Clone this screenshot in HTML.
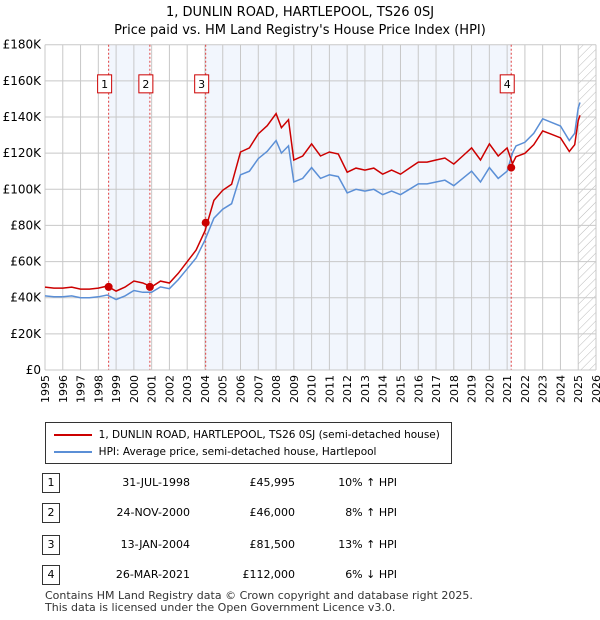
<!DOCTYPE html>
<html><head><meta charset="utf-8"><style>
body{margin:0;background:#fff;font-family:"DejaVu Sans","Liberation Sans",sans-serif;color:#000}
</style></head><body>
<div style="position:relative;width:600px;height:620px;overflow:hidden">
<div style="position:absolute;top:4px;width:600px;text-align:center;font-size:13px;line-height:18px">1, DUNLIN ROAD, HARTLEPOOL, TS26 0SJ<br>Price paid vs. HM Land Registry's House Price Index (HPI)</div>
<svg id="c" width="600" height="420" style="position:absolute;left:0;top:0"></svg>
<div style="position:absolute;left:45px;top:422px;width:405px;height:40px;border:1px solid #333;font-size:10.5px;white-space:nowrap">
 <div style="position:absolute;left:8px;top:6px"><span style="display:inline-block;width:38px;border-top:2px solid #c00;vertical-align:middle"></span>&nbsp; 1, DUNLIN ROAD, HARTLEPOOL, TS26 0SJ (semi-detached house)</div>
 <div style="position:absolute;left:8px;top:23px"><span style="display:inline-block;width:38px;border-top:2px solid #5b8fd6;vertical-align:middle"></span>&nbsp; HPI: Average price, semi-detached house, Hartlepool</div>
</div>
<div id="tbl"></div>
<div style="position:absolute;left:45px;top:590px;font-size:11px;line-height:12px;color:#333">Contains HM Land Registry data © Crown copyright and database right 2025.<br>This data is licensed under the Open Government Licence v3.0.</div>
</div>
<script>
const hpiYears=[1995,1995.5,1996,1996.5,1997,1997.5,1998,1998.5,1999,1999.5,2000,2000.5,2001,2001.5,2002,2002.5,2003,2003.5,2004,2004.5,2005,2005.5,2006,2006.5,2007,2007.5,2008,2008.3,2008.7,2009,2009.5,2010,2010.5,2011,2011.5,2012,2012.5,2013,2013.5,2014,2014.5,2015,2015.5,2016,2016.5,2017,2017.5,2018,2018.5,2019,2019.5,2020,2020.5,2021,2021.3,2021.5,2022,2022.5,2023,2023.5,2024,2024.5,2024.8,2025,2025.1];
const hpiValues=[41,40.5,40.5,41,40,40,40.5,41.5,39,41,44,43,43,46,45,50,56,62,72,84,89,92,108,110,117,121,127,120,124,104,106,112,106,108,107,98,100,99,100,97,99,97,100,103,103,104,105,102,106,110,104,112,106,110,120,124,126,131,139,137,135,127,131,145,148];
const saleDates=[1998.58,2000.9,2004.04,2021.23];
const salePrices=[45995,46000,81500,112000];
const saleLabels=["31-JUL-1998","24-NOV-2000","13-JAN-2004","26-MAR-2021"];
const salePriceText=["£45,995","£46,000","£81,500","£112,000"];
const saleHpiText=["10% ↑ HPI","8% ↑ HPI","13% ↑ HPI","6% ↓ HPI"];
const yTicks=[0,20,40,60,80,100,120,140,160,180];
const xTicks=[1995,1996,1997,1998,1999,2000,2001,2002,2003,2004,2005,2006,2007,2008,2009,2010,2011,2012,2013,2014,2015,2016,2017,2018,2019,2020,2021,2022,2023,2024,2025,2026];
const L=45,R=596,T=44.7,B=370;
const X=y=>L+(y-1995)*(R-L)/31, Y=v=>B-v*(B-T)/180;
const ns="http://www.w3.org/2000/svg",svg=document.getElementById('c');
function mk(t,a,p){const e=document.createElementNS(ns,t);for(const k in a)e.setAttribute(k,a[k]);(p||svg).appendChild(e);return e;}
function hpiAt(d){for(let i=0;i<hpiYears.length-1;i++){if(d<=hpiYears[i+1]){const f=(d-hpiYears[i])/(hpiYears[i+1]-hpiYears[i]);return hpiValues[i]+f*(hpiValues[i+1]-hpiValues[i]);}}return hpiValues[hpiValues.length-1];}
mk('rect',{x:L,y:T,width:R-L,height:B-T,fill:'#fff'});
let r=mk('rect',{x:X(saleDates[0]),y:T,width:X(saleDates[1])-X(saleDates[0]),height:B-T,fill:'#f2f6fd'});

r=mk('rect',{x:X(saleDates[2]),y:T,width:X(saleDates[3])-X(saleDates[2]),height:B-T,fill:'#f2f6fd'});

const defs=mk('defs',{});const pt=mk('pattern',{id:'h',width:6,height:6,patternUnits:'userSpaceOnUse',patternTransform:'rotate(45)'},defs);
mk('line',{x1:0,y1:0,x2:0,y2:6,stroke:'#bbb','stroke-width':1},pt);
r=mk('rect',{x:X(2025),y:T,width:R-X(2025),height:B-T,fill:'url(#h)'});

xTicks.forEach(y=>{mk('line',{x1:X(y),y1:T,x2:X(y),y2:B,stroke:'#c8c8c8'});
 const t=mk('text',{x:0,y:0,'font-size':11,'text-anchor':'end','transform':`translate(${X(y)+4},${B+5}) rotate(-90)`});t.textContent=y;
 });
yTicks.forEach(v=>{mk('line',{x1:L,y1:Y(v),x2:R,y2:Y(v),stroke:'#c8c8c8'});
 const t=mk('text',{x:L-4,y:Y(v)+4,'font-size':12,'text-anchor':'end'});t.textContent=v?'£'+v+'K':'£0';
 });
saleDates.forEach((d,i)=>{mk('line',{x1:X(d),y1:T,x2:X(d),y2:B,stroke:'#e04040','stroke-dasharray':'2,2'});
 const bx=X(d)-4;
 mk('rect',{x:bx-7,y:Y(160)-6,width:14,height:18,fill:'#fff',stroke:'#c00'});
 const t=mk('text',{x:bx,y:Y(160)+7,'font-size':11,'text-anchor':'middle'});t.textContent=i+1;
 });
let bp='',rp='';
hpiYears.forEach((y,i)=>{bp+=(i?'L':'M')+X(y).toFixed(1)+','+Y(hpiValues[i]).toFixed(1);
 let k=0;while(k<3&&y>=saleDates[k+1])k++;
 const ratio=salePrices[k]/1000/hpiAt(saleDates[k]);
 rp+=(i?'L':'M')+X(y).toFixed(1)+','+Y(hpiValues[i]*ratio).toFixed(1);});
let p=mk('path',{d:bp,fill:'none',stroke:'#5b8fd6','stroke-width':1.5});
p=mk('path',{d:rp,fill:'none',stroke:'#c00','stroke-width':1.5});
saleDates.forEach((d,i)=>{const c=mk('circle',{cx:X(d),cy:Y(salePrices[i]/1000),r:4,fill:'#c00'});
 });
mk('line',{x1:L,y1:B,x2:R,y2:B,stroke:'#c8c8c8'});
const tb=document.getElementById('tbl');const ys=[483,513,545,575];
saleDates.forEach((d,i)=>{const row=document.createElement('div');
 
 row.style.cssText=`position:absolute;left:0;top:${ys[i]-10}px;width:600px;height:20px;font-size:11px`;
 row.innerHTML=`<span style="position:absolute;left:42px;top:0;width:16px;height:18px;border:1px solid #333;text-align:center;line-height:18px">${i+1}</span><span style="position:absolute;left:90px;width:100px;text-align:right;line-height:20px">${saleLabels[i]}</span><span style="position:absolute;left:190px;width:105px;text-align:right;line-height:20px">${salePriceText[i]}</span><span style="position:absolute;left:300px;width:97px;text-align:right;line-height:20px">${saleHpiText[i]}</span>`;
 tb.appendChild(row);});
</script>
</body></html>
